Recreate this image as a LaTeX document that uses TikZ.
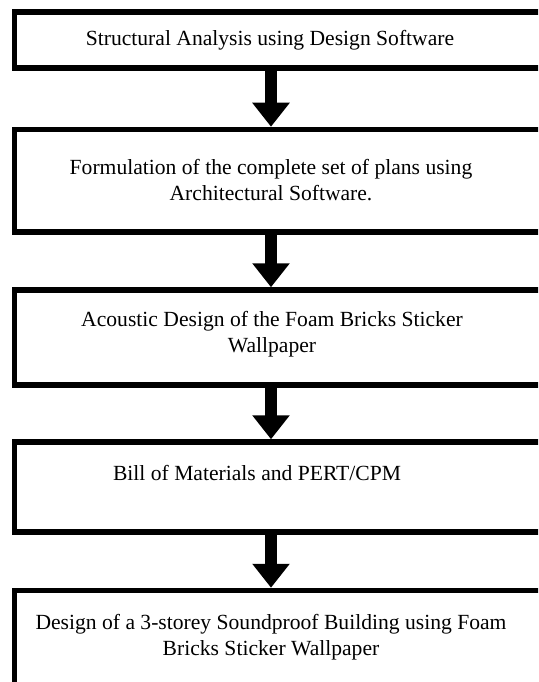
\documentclass[tikz,border=0pt]{standalone}
\usepackage{fontspec}
\setmainfont{Liberation Serif}
\usetikzlibrary{arrows.meta}
\usetikzlibrary{positioning}

\begin{document}
\begin{tikzpicture}[x=1pt, y=-1pt,
    every node/.style={font=\fontsize{21.6}{26}\selectfont, align=center},
    stage/.style={draw, line width=5.5pt, rectangle, inner sep=0pt, minimum width=545.5pt},
    flow/.style={line width=12pt, -{Triangle[width=36pt,length=24pt]}}]
      \useasboundingbox (0,0) rectangle (538,682);
      \clip (0,0) rectangle (538,682);
      \coordinate (axis) at (271,0);

      % boxes
      \node[stage, minimum height=56pt]    (b1) at (287.25, 40)     {};
      \node[stage, minimum height=102.5pt] (b2) at (287.25, 180.75) {};
      \node[stage, minimum height=95pt]    (b3) at (287.25, 337.5)  {};
      \node[stage, minimum height=90pt]    (b4) at (287.25, 487)    {};
      \node[stage, minimum height=129pt]   (b5) at (287.25, 655)    {};

      % texts
      \node (t1) at (270, 40)  {Structural Analysis using Design Software};
      \node (t2) at (271, 180) {Formulation of the complete set of plans using\\Architectural Software.};
      \node (t3) at (272, 334) {Acoustic Design of the Foam Bricks Sticker\\Wallpaper};
      \node (t4) at (257, 473) {Bill of Materials and PERT/CPM};
      \node (t5) at (271, 637) {Design of a 3-storey Soundproof Building using Foam\\Bricks Sticker Wallpaper};

      % arrows
      \draw[flow] (b1.south -| axis) -- (b2.north -| axis);
      \draw[flow] (b2.south -| axis) -- (b3.north -| axis);
      \draw[flow] (b3.south -| axis) -- (b4.north -| axis);
      \draw[flow] (b4.south -| axis) -- (b5.north -| axis);
\end{tikzpicture}
\end{document}
